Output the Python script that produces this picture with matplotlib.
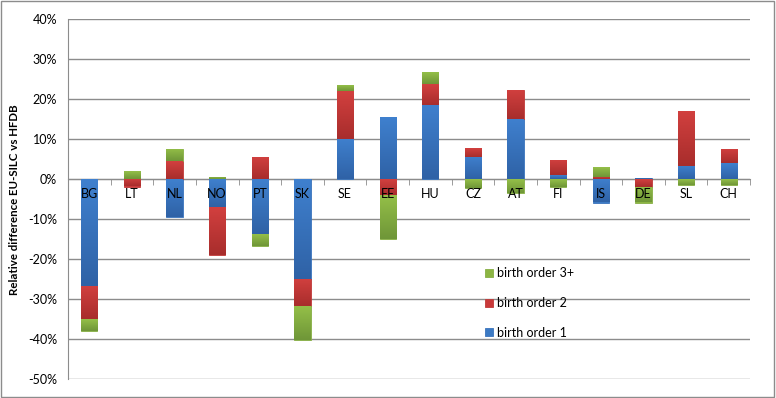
import matplotlib
matplotlib.use("Agg")
import matplotlib.pyplot as plt
import numpy as np
from matplotlib.patches import Rectangle
from matplotlib.colors import to_rgb

countries = ["BG", "LT", "NL", "NO", "PT", "SK", "SE", "EE", "HU", "CZ", "AT", "FI", "IS", "DE", "SL", "CH"]
order1 = [-26.7, 0.0, -9.5, -7.0, -13.7, -24.8, 10.1, 15.5, 18.6, 5.6, 15.0, 1.0, -5.8, 0.3, 3.3, 4.0]
order2 = [-8.3, -1.8, 4.5, -12.0, 5.6, -6.9, 12.0, -3.9, 5.2, 2.2, 7.3, 3.8, 0.6, -1.9, 13.8, 3.7]
order3 = [-2.9, 2.0, 3.1, 0.6, -3.0, -8.5, 1.5, -11.0, 3.0, -2.1, -3.5, -2.0, 2.4, -3.9, -1.5, -1.5]
yticks = [-50, -40, -30, -20, -10, 0, 10, 20, 30, 40]
series_labels = ["birth order 1", "birth order 2", "birth order 3+"]
colors = ["#3C7AC4", "#C9393A", "#8CB543"]
light = ["#3F80CE", "#D2403F", "#94BF48"]
dark = ["#2F62A6", "#A82D2C", "#6F9638"]
edges = ["#3A74BC", "#C03A38", "#86AE44"]

plt.rcParams['font.family'] = ['Lato', 'DejaVu Sans']

fig = plt.figure(figsize=(7.76, 3.98), dpi=100)
ax = fig.add_axes([68/776, 1-379.3/398, 682/776, 360/398])

x = np.arange(len(countries))
pos_base = np.zeros(len(countries))
neg_base = np.zeros(len(countries))
handles = []
for vals, col, lc, dc, ec, lab in zip([order1, order2, order3], colors, light, dark, edges, series_labels):
    v = np.array(vals, dtype=float)
    base = np.where(v >= 0, pos_base, neg_base)
    h = ax.bar(x, v, bottom=base, width=0.38, color=col, edgecolor=ec, linewidth=0.6, label=lab, zorder=3)
    handles.append(h)
    # vertical gradient fill inside each bar
    l = np.array(to_rgb(lc)); d = np.array(to_rgb(dc))
    t = np.linspace(0, 1, 64)[:, None]
    grad = (l[None, :] * (1 - t) + d[None, :] * t)[:, None, :]
    for rect in h.patches:
        x0, y0 = rect.get_x(), rect.get_y()
        w, hh = rect.get_width(), rect.get_height()
        if hh == 0:
            continue
        ytop, ybot = max(y0, y0 + hh), min(y0, y0 + hh)
        im = ax.imshow(grad, extent=(x0, x0 + w, ybot, ytop), aspect="auto",
                       origin="upper", zorder=3.1, interpolation="bilinear")
        im.set_clip_path(rect)
    pos_base = pos_base + np.where(v >= 0, v, 0)
    neg_base = neg_base + np.where(v < 0, v, 0)

ax.set_xlim(-0.5, len(countries) - 0.5)
ax.set_ylim(-50, 40)
ax.set_yticks(yticks)
ax.set_yticklabels([f"{t}%" for t in yticks], fontsize=9)
ax.yaxis.grid(True, color="#8C8C8C", linewidth=1.0, zorder=0)
ax.tick_params(axis="y", length=0, pad=8)

ax.spines['bottom'].set_position(('data', 0))
ax.spines['bottom'].set_color("#8C8C8C")
ax.spines['left'].set_color("#8C8C8C")
ax.spines['top'].set_visible(False)
ax.spines['right'].set_visible(False)
ax.set_xticks(x)
ax.set_xticklabels([])
ax.set_xticks(np.arange(len(countries) + 1) - 0.5, minor=True)
ax.tick_params(axis="x", which="major", length=0)
ax.tick_params(axis="x", which="minor", length=4, color="#8C8C8C", direction="out")
for xi, name in zip(x, countries):
    ax.annotate(name, xy=(xi, 0), xytext=(0, -6), textcoords="offset points",
                ha="center", va="top", fontsize=9, zorder=6, annotation_clip=False)

ax.set_ylabel("Relative difference EU-SILC vs HFDB", fontsize=8.3, fontweight="bold")
ax.yaxis.set_label_coords(-0.07, 0.5)

leg = ax.legend(handles[::-1], series_labels[::-1], loc="upper left",
                bbox_to_anchor=(474/776, 1-256/398), bbox_transform=fig.transFigure,
                frameon=False, fontsize=9, handlelength=0.6, handleheight=0.6,
                labelspacing=1.42, handletextpad=0.3)

fig.patches.append(Rectangle((0.001, 0.002), 0.997, 0.995, transform=fig.transFigure,
                             fill=False, edgecolor="#8C8C8C", linewidth=1.0))

fig.savefig("out.png", dpi=100)
